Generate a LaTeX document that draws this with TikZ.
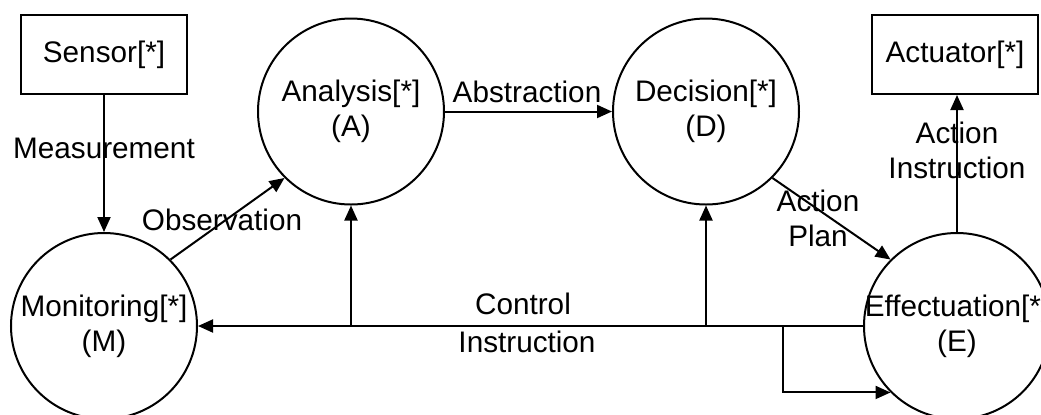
\documentclass[tikz,border=0pt]{standalone}
\usepackage{fontspec}
\setmainfont{Liberation Sans}
\usetikzlibrary{arrows.meta}
\begin{document}
\begin{tikzpicture}[x=0.5pt,y=-0.5pt,
  every node/.style={font=\fontsize{14.85}{17.5}\selectfont},
  stage/.style={draw, circle, line width=1pt, minimum size=93pt, inner sep=0pt},
  device/.style={draw, rectangle, line width=1pt, minimum width=83pt, minimum height=39.5pt, inner sep=0pt},
  flow/.style={line width=1pt, -{Triangle[length=7.5pt,width=6.5pt]}},
  lbl/.style={align=center, inner sep=0pt}]
\clip (0,0) rectangle (1041,414);
\fill[white] (0,0) rectangle (1041,414);

% devices
\node[device] (S) at (104,54.5) {Sensor[*]};
\node[device] (Act) at (955,54.5) {Actuator[*]};

% MADE stages
\node[stage] (M) at (104,326) {};
\node[stage] (A) at (351,111.5) {};
\node[stage] (D) at (706,111.5) {};
\node[stage] (E) at (957,326) {};
\node[lbl] (Mt) at (M) {Monitoring[*]\\(M)};
\node[lbl] (At) at (A) {Analysis[*]\\(A)};
\node[lbl] (Dt) at (D) {Decision[*]\\(D)};
\node[lbl] (Et) at (E) {Effectuation[*]\\(E)};

% main flow
\draw[flow] (S) -- (M);
\draw[flow] (M.45) -- (A.225);
\draw[flow] (A) -- (D);
\draw[flow] (D.-45) -- (E.135);
\draw[flow] (E.north) -- (E.north |- Act.south);

% control feedback
\draw[flow] (E.west) -- (M.east);
\coordinate (ja) at (A |- E.west);
\coordinate (jd) at (D |- E.west);
\coordinate (jl) at (783,326);
\coordinate (jb) at (jl |- E.225);
\draw[flow] (ja) -- (A.south);
\draw[flow] (jd) -- (D.south);
\draw[flow] (jl) -- (jb) -- (E.225);

% connector labels
\node[lbl] (lMeas) at (104,148) {Measurement};
\node[lbl] (lObs) at (222,220) {Observation};
\node[lbl] (lAbs) at (527,92) {Abstraction};
\node[lbl] (lPlan) at (818,218) {Action\\Plan};
\node[lbl] (lInstr) at (957,150) {Action\\Instruction};
\node[lbl] (lCtrl) at (523,304) {Control};
\node[lbl] (lCtrl2) at (527,342) {Instruction};
\end{tikzpicture}
\end{document}
